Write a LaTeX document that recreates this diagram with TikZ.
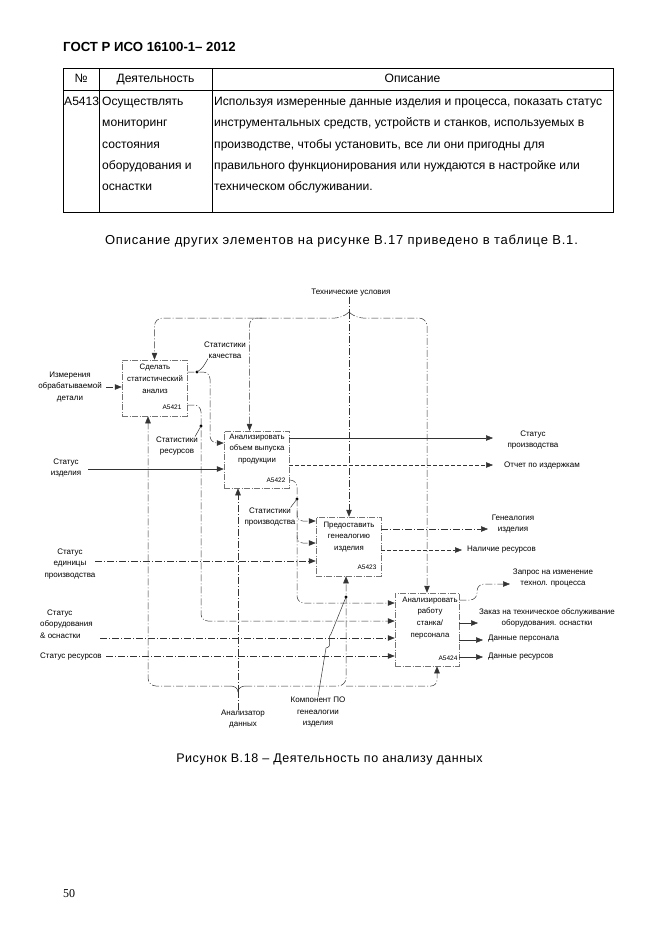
\documentclass[tikz,border=0pt]{standalone}
\usepackage{fontspec}
\setmainfont{Liberation Sans}
\newfontfamily\numfont{Liberation Serif}
\newfontfamily\capfont[LetterSpace=6]{Liberation Sans}
\newfontfamily\figfont[LetterSpace=4.5]{Liberation Sans}
\usetikzlibrary{arrows.meta}

\tikzset{
  arr/.style={-{Triangle[length=7pt,width=5.5pt]}},
  flow/.style={draw=black!80, line width=0.5pt},
  dd/.style={flow, dash pattern=on 7pt off 2pt on 1pt off 2pt},
  dsh/.style={flow, dash pattern=on 4pt off 2pt},
  actbox/.style={draw=black!55, line width=0.5pt, dash pattern=on 6pt off 1.5pt on 1pt off 1.5pt, minimum width=65pt},
  lbl/.style={font=\fontsize{8}{11.5}\selectfont, align=center, inner sep=0pt},
  boxtext/.style={lbl, font=\fontsize{7.8}{11.8}\selectfont},
  idtext/.style={font=\fontsize{6.5}{8}\selectfont, inner sep=0pt},
  tabtext/.style={font=\fontsize{12.1}{15}\selectfont, inner sep=0pt, anchor=base west},
}

\begin{document}
\begin{tikzpicture}[x=1pt,y=-1pt]
\useasboundingbox (0,0) rectangle (661,935);

% header and table
\node[anchor=base west, inner sep=0pt, font=\bfseries\fontsize{13.2}{15}\selectfont] (gost) at (63,51.5) {ГОСТ Р ИСО 16100-1– 2012};
\draw[line width=0.8pt] (63,68) rectangle (613,212);
\draw[line width=0.6pt] (63,90) -- (613,90);
\draw[line width=0.6pt] (99,68) -- (99,212);
\draw[line width=0.6pt] (212,68) -- (212,212);

\node[tabtext, anchor=base] (h1) at (81,82) {№};
\node[tabtext, anchor=base] (h2) at (155.5,82) {Деятельность};
\node[tabtext, anchor=base] (h3) at (412.5,82) {Описание};

\node[tabtext] (n1) at (64,105) {A5413};
\node[tabtext] (d1) at (102,105) {Осуществлять};
\node[tabtext] (d2) at (102,126) {мониторинг};
\node[tabtext] (d3) at (102,148) {состояния};
\node[tabtext] (d4) at (102,169) {оборудования и};
\node[tabtext] (d5) at (102,190) {оснастки};
\node[tabtext] (o1) at (214,105) {Используя измеренные данные изделия и процесса, показать статус};
\node[tabtext] (o2) at (214,126) {инструментальных средств, устройств и станков, используемых в};
\node[tabtext] (o3) at (214,148) {производстве, чтобы установить, все ли они пригодны для};
\node[tabtext] (o4) at (214,169) {правильного функционирования или нуждаются в настройке или};
\node[tabtext] (o5) at (214,190) {техническом обслуживании.};

\node[inner sep=0pt, anchor=base, font=\capfont\fontsize{13}{15}\selectfont] (cap1) at (341.5,244.5) {Описание других элементов на рисунке В.17 приведено в таблице В.1.};

% activity boxes
\node[actbox, minimum height=56pt] (b1) at (154.5,388) {};
\node[actbox, minimum height=57pt] (b2) at (256.5,459.5) {};
\node[actbox, minimum height=59pt] (b3) at (348.5,546.5) {};
\node[actbox, minimum width=64pt, minimum height=73pt] (b4) at (427,629.5) {};

\node[boxtext] (t1) at (155,379) {Сделать\\статистический\\анализ};
\node[boxtext] (t2) at (257,449) {Анализировать\\объем выпуска\\продукции};
\node[boxtext] (t3) at (349,537) {Предоставить\\генеалогию\\изделия};
\node[boxtext] (t4) at (430,618) {Анализировать\\работу\\станка/\\персонала};

\node[idtext] (id1) at (172,407) {A5421};
\node[idtext] (id2) at (276,480) {A5422};
\node[idtext] (id3) at (367,567) {A5423};
\node[idtext] (id4) at (448,658) {A5424};

% labels
\node[lbl] (tu) at (351,293) {Технические условия};
\node[lbl] (sq) at (225,350) {Статистики\\качества};
\node[lbl] (im) at (70,387) {Измерения\\обрабатываемой\\детали};
\node[lbl] (sr) at (177,446) {Статистики\\ресурсов};
\node[lbl] (si) at (66,468) {Статус\\изделия};
\node[lbl] (spr) at (533,440) {Статус\\производства};
\node[lbl, anchor=west] (oi) at (504,466) {Отчет по издержкам};
\node[lbl] (stp) at (270,517) {Статистики\\производства};
\node[lbl] (gen) at (513,524) {Генеалогия\\изделия};
\node[lbl, anchor=west] (nr) at (467,550) {Наличие ресурсов};
\node[lbl] (seu) at (70,564) {Статус\\единицы\\производства};
\node[lbl] (zap) at (553,578) {Запрос на изменение\\технол. процесса};
\node[lbl] (zak) at (547,618) {Заказ на техническое обслуживание\\оборудования. оснастки};
\node[lbl, anchor=west] (dp) at (488,639) {Данные персонала};
\node[lbl, anchor=west] (dr) at (488,657) {Данные ресурсов};
\node[lbl, align=left, anchor=west] (soo) at (40,624) {\hspace*{7pt}Статус\\оборудования\\\& оснастки};
\node[lbl, anchor=west] (sres) at (40,657) {Статус ресурсов};
\node[lbl] (an) at (243,719) {Анализатор\\данных};
\node[lbl] (kpo) at (318,712) {Компонент ПО\\генеалогии\\изделия};

% inputs
\coordinate (i1) at (106,387);
\coordinate (i2) at (88,469);
\coordinate (i3) at (95,561);
\coordinate (i4) at (100,638);
\coordinate (i5) at (106,656);
\draw[dd,arr] (i1) -- (i1 -| b1.west);
\draw[flow,arr] (i2) -- (i2 -| b2.west);
\draw[dd,arr] (i3) -- (i3 -| b3.west);
\draw[dd,arr] (i4) -- (i4 -| b4.west);
\draw[dd,arr] (i5) -- (i5 -| b4.west);

% controls
\coordinate (tj) at (349,312);
\draw[dd] (tu.south -| tj) -- (tj);
\draw[dd,arr,rounded corners=8pt] (tj) -- (343,318) -- (b1.north |- 0,318) -- (b1.north);
\draw[dd,arr,rounded corners=8pt] (tj) -- (355,318) -- (b4.north |- 0,318) -- (b4.north);
\draw[dd,arr] (tj) -- (tj |- b3.north);
\draw[dd,arr,rounded corners=7pt] (262,318) -- ([xshift=-7pt]b2.north |- 0,318) -- ([xshift=-7pt]b2.north);

% mechanisms
\coordinate (mj) at (238,692);
\draw[dd] (an.north -| mj) -- (mj);
\draw[flow] (mj) to[out=90,in=0] (231,686);
\draw[flow] (mj) to[out=90,in=180] (245,686);
\draw[dd,arr,rounded corners=8pt] (231,686) -- ([xshift=-6.5pt]b1.south |- 0,686) -- ([xshift=-6.5pt]b1.south);
\draw[dd,arr] (mj) -- ([xshift=-18.5pt]b2.south);
\draw[dd,arr,rounded corners=8pt] (245,686) -- ([xshift=-2.5pt]b3.south |- 0,686) -- ([xshift=-2.5pt]b3.south);
\draw[dd,arr,rounded corners=6pt] (346,686) -- ([xshift=10pt]b4.south |- 0,686) -- ([xshift=10pt]b4.south);

\coordinate (kd) at (346,597);
\fill (kd) circle[radius=1.6pt];
\draw[flow] (kpo.north) -- (326,648) .. controls (334,646) and (326,639) .. (331,634) -- (kd);

% outputs of A5421
\draw[dd,arr,rounded corners=7pt] ([yshift=16pt]b1.east) -- (210,372) -- (210,443) -- (b2.west |- 0,443);
\draw[dd,arr,rounded corners=7pt] ([yshift=-17pt]b1.east) -- (201,405) -- (201,621) -- (b4.west |- 0,621);
\coordinate (qd) at (197,372);
\fill (qd) circle[radius=1.6pt];
\draw[flow] (qd) to[out=30,in=-120] ([xshift=4pt]sq.south west);
\coordinate (rd) at (201,426);
\fill (rd) circle[radius=1.6pt];
\draw[flow] (rd) -- ([xshift=-3pt]sr.north east);

% outputs of A5422
\coordinate (e1) at (493,438);
\coordinate (e2) at (493,465);
\draw[flow,arr] ([yshift=21.5pt]b2.east) -- (e1);
\draw[dsh,arr] ([yshift=-5.5pt]b2.east) -- (e2);
\draw[dd,arr,rounded corners=7pt] ([yshift=-20.5pt]b2.east) -- (297,480) -- (297,603) -- (b4.west |- 0,603);
\draw[dd,arr,rounded corners=6pt] (297,510) -- (297,521) -- (b3.west |- 0,521);
\draw[dd,arr,rounded corners=6pt] (297,532) -- (297,543) -- (b3.west |- 0,543);
\coordinate (pd) at (297,499);
\fill (pd) circle[radius=1.6pt];
\draw[flow] (pd) -- ([xshift=-5pt]stp.north east);

% outputs of A5423
\coordinate (e3) at (488,529);
\coordinate (e4) at (462,550);
\draw[dd,arr] ([yshift=17.5pt]b3.east) -- (e3);
\draw[dsh,arr] ([yshift=-3.5pt]b3.east) -- (e4);

% outputs of A5424
\coordinate (e5) at (510,584);
\coordinate (e6) at (478,623);
\coordinate (e7) at (483,640);
\coordinate (e8) at (483,657);
\draw[dd,arr,rounded corners=7pt] ([yshift=29.5pt]b4.east) -- (477,600) -- (477,584) -- (e5);
\draw[flow,arr] ([yshift=6.5pt]b4.east) -- (e6);
\draw[flow,arr] ([yshift=-10.5pt]b4.east) -- (e7);
\draw[flow,arr] ([yshift=-27.5pt]b4.east) -- (e8);

% captions
\node[inner sep=0pt, anchor=base, font=\figfont\fontsize{12.5}{15}\selectfont] (cap2) at (329.5,762) {Рисунок В.18 – Деятельность по анализу данных};
\node[inner sep=0pt, anchor=base west, font=\numfont\fontsize{12}{14}\selectfont] (pg) at (63,897.5) {50};
\end{tikzpicture}
\end{document}
